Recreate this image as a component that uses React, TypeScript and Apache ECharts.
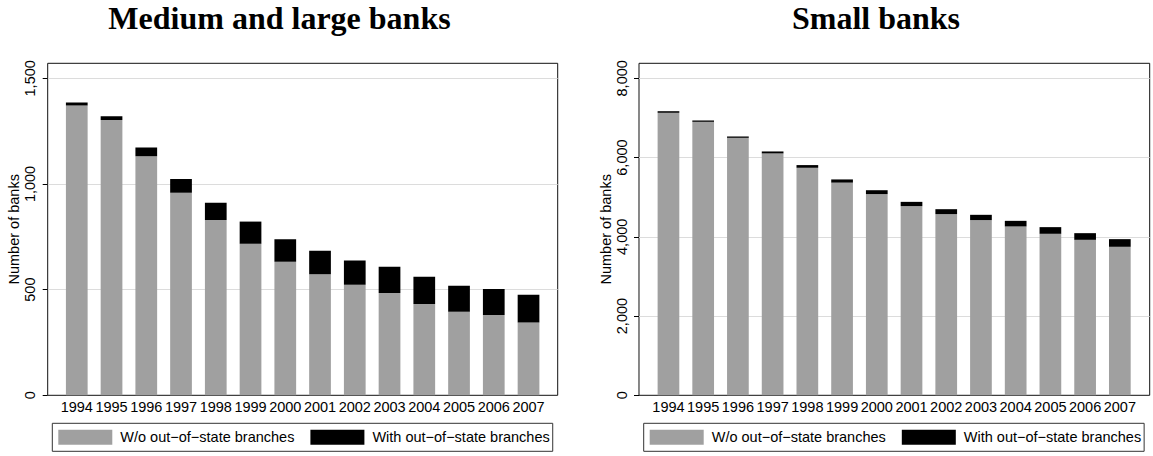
import React, { useEffect, useRef } from "react";
import * as echarts from "echarts";

const years = ["1994", "1995", "1996", "1997", "1998", "1999", "2000", "2001", "2002", "2003", "2004", "2005", "2006", "2007"];
const medWithout = [1371, 1303, 1131, 958, 829, 717, 632, 573, 523, 484, 432, 395, 380, 345];
const medWith = [15, 17, 41, 66, 82, 105, 107, 111, 115, 124, 129, 123, 123, 131];
const smallWithout = [7130, 6902, 6498, 6104, 5742, 5368, 5076, 4773, 4571, 4420, 4261, 4076, 3924, 3748];
const smallWith = [40, 34, 34, 50, 68, 80, 100, 109, 126, 135, 142, 168, 168, 193];
const medTicks = [0, 500, 1000, 1500];
const smallTicks = [0, 2000, 4000, 6000, 8000];
const seriesNames = ["W/o out\u2212of\u2212state branches", "With out\u2212of\u2212state branches"];
const panelTitles = ["Medium and large banks", "Small banks"];
const yTitle = "Number of banks";

const SANS = '"Liberation Sans", Arial, sans-serif';
const FS = 14.5;
const GREY = "#a0a0a0";
const BLACK = "#000000";

const fmt = (v: number) => String(Math.round(v)).replace(/\B(?=(\d{3})+(?!\d))/g, ",");

export default function App() {
  const ref = useRef<HTMLDivElement>(null);
  useEffect(() => {
    document.body.style.margin = "0";
    if (!ref.current) return;
    const chart = echarts.init(ref.current, null, { renderer: "svg" });

    const panels = [
      { outerLeft: 47.7, outerWidth: 510, innerLeft: 59.4, innerWidth: 486.5, max: 1571, interval: 500, ticks: medTicks, a: medWithout, b: medWith, titleX: 279.5, legendLeft: 52.3 },
      { outerLeft: 639, outerWidth: 510.7, innerLeft: 651.1, innerWidth: 486.1, max: 8379, interval: 2000, ticks: smallTicks, a: smallWithout, b: smallWith, titleX: 876, legendLeft: 643.7 },
    ];
    const top = 63.3;
    const height = 332;

    const grid: any[] = [];
    const xAxis: any[] = [];
    const yAxis: any[] = [];
    const series: any[] = [];
    const legend: any[] = [];
    const graphic: any[] = [];

    panels.forEach((p, i) => {
      const go = i * 2;
      const gi = i * 2 + 1;
      grid.push({ left: p.outerLeft, top, width: p.outerWidth, height, show: true, borderColor: "#111", borderWidth: 1, backgroundColor: "transparent", containLabel: false });
      grid.push({ left: p.innerLeft, top, width: p.innerWidth, height, show: false, containLabel: false });
      xAxis.push({ type: "value", gridIndex: go, show: false, min: 0, max: 1 });
      xAxis.push({
        type: "category", gridIndex: gi, data: years,
        axisLine: { show: false }, axisTick: { show: false },
        axisLabel: { interval: 0, margin: 4, fontSize: FS, color: "#000", fontFamily: SANS },
      });
      yAxis.push({
        type: "value", gridIndex: go, min: 0, max: p.max, interval: p.interval,
        name: yTitle, nameLocation: "middle", nameGap: 24,
        nameTextStyle: { fontSize: FS, color: "#000", fontFamily: SANS },
        axisLine: { show: false },
        axisTick: { show: true, length: 5, lineStyle: { color: "#000" }, customValues: p.ticks },
        axisLabel: {
          rotate: 90, margin: 10, fontSize: FS, color: "#000", fontFamily: SANS,
          customValues: p.ticks,
          formatter: (v: number) => (v % p.interval === 0 ? fmt(v) : ""),
        },
        splitLine: { show: true, showMinLine: false, lineStyle: { color: "#dcdcdc", width: 1 } },
      });
      yAxis.push({ type: "value", gridIndex: gi, min: 0, max: p.max, show: false, splitLine: { show: false } });

      series.push({
        name: seriesNames[0], type: "bar", stack: "s" + i, xAxisIndex: gi, yAxisIndex: gi,
        data: p.a, barCategoryGap: "37.5%", itemStyle: { color: GREY },
      });
      series.push({
        name: seriesNames[1], type: "bar", stack: "s" + i, xAxisIndex: gi, yAxisIndex: gi,
        data: p.b, barCategoryGap: "37.5%", itemStyle: { color: BLACK },
      });

      legend.push({
        left: p.legendLeft, top: 423.3, orient: "horizontal",
        data: seriesNames, icon: "rect", itemWidth: 54, itemHeight: 15, itemGap: 16,
        padding: [6.5, 3, 6.5, 6], borderColor: "#333", borderWidth: 1, borderRadius: 0,
        selectedMode: false,
        textStyle: { fontSize: FS, color: "#000", fontFamily: SANS, padding: [0, 0, 0, 3] },
      });

      graphic.push({
        type: "text", x: p.titleX, y: 17.5,
        style: { text: panelTitles[i], fontSize: 32, fontWeight: "bold", fontFamily: '"Liberation Serif", "Times New Roman", serif', fill: "#000", textAlign: "center", textVerticalAlign: "middle" },
      });
    });

    chart.setOption({
      animation: false,
      backgroundColor: "#ffffff",
      grid, xAxis, yAxis, series, legend, graphic,
    });
    return () => chart.dispose();
  }, []);
  return <div ref={ref} style={{ width: 1153, height: 456 }} />;
}
